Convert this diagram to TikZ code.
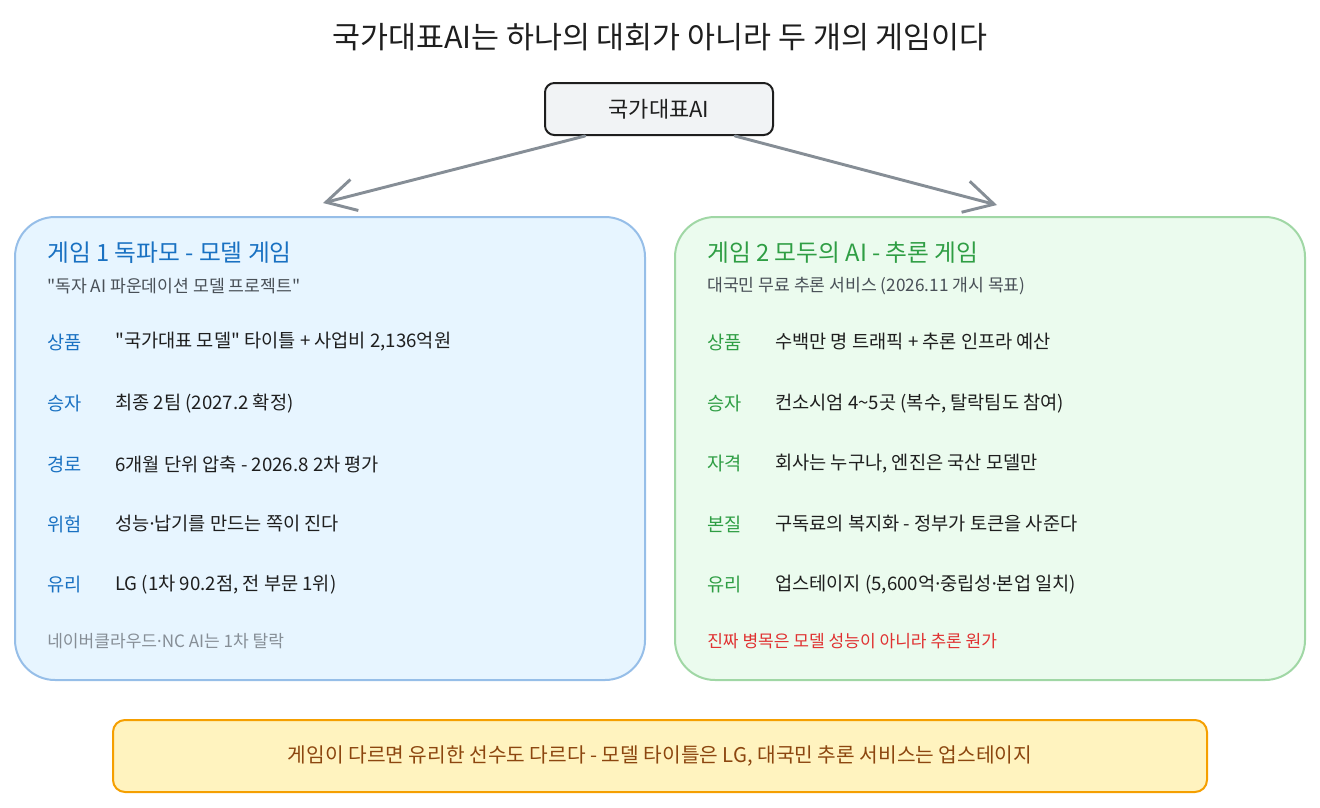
\documentclass[tikz,border=0pt]{standalone}
\usepackage{fontspec}
\setmainfont{Noto Sans CJK KR}
\newfontfamily\latinfont{Noto Sans}
\newcommand\punto{{\latinfont ·}}
\newcommand\comilla{\textquotedbl}
\usepackage{xcolor}
\definecolor{tinta}{RGB}{30,30,30}
\definecolor{grisNodo}{RGB}{241,243,245}
\definecolor{grisFlecha}{RGB}{134,142,150}
\definecolor{grisTexto}{RGB}{73,80,87}
\definecolor{grisNota}{RGB}{134,142,150}
\definecolor{azulBorde}{RGB}{150,190,232}
\definecolor{azulFondo}{RGB}{231,245,255}
\definecolor{azulTexto}{RGB}{25,113,194}
\definecolor{verdeBorde}{RGB}{160,215,165}
\definecolor{verdeFondo}{RGB}{235,251,238}
\definecolor{verdeTexto}{RGB}{47,158,68}
\definecolor{rojoNota}{RGB}{224,49,49}
\definecolor{amarFondo}{RGB}{255,243,191}
\definecolor{amarBorde}{RGB}{245,159,0}
\definecolor{marronTexto}{RGB}{140,70,15}
\usetikzlibrary{arrows.meta, positioning}

\begin{document}
\begin{tikzpicture}[x=0.75pt, y=-0.75pt,
  caja/.style={rectangle, rounded corners=30pt, line width=1.5pt,
               minimum width=472.5pt, minimum height=347.25pt},
  arr/.style={-{Straight Barb[length=22pt, width=24pt, line width=2.2pt]},
              line width=2.2pt, color=grisFlecha, line cap=round},
  tit/.style={anchor=west, inner sep=0pt, font=\fontsize{17.8pt}{20pt}\selectfont},
  sub/.style={anchor=west, inner sep=0pt, color=grisTexto, font=\fontsize{12.9pt}{15pt}\selectfont},
  key/.style={anchor=west, inner sep=0pt, font=\fontsize{14pt}{16pt}\selectfont},
  val/.style={anchor=west, inner sep=0pt, color=tinta, font=\fontsize{14pt}{16pt}\selectfont},
  nota/.style={anchor=west, inner sep=0pt, font=\fontsize{12.8pt}{15pt}\selectfont}
]
  \useasboundingbox (0,0) rectangle (1320,807);

  \node[color=tinta, font=\fontsize{22.8pt}{26pt}\selectfont] (titulo) at (660,37)
    {국가대표AI는 하나의 대회가 아니라 두 개의 게임이다};

  \node[rectangle, rounded corners=7pt, draw=tinta, fill=grisNodo, line width=1.5pt,
        minimum width=171pt, minimum height=39pt, text=tinta,
        font=\fontsize{16.5pt}{19pt}\selectfont] (raiz) at (659,109) {국가대표AI};

  % caja izquierda
  \node[caja, draw=azulBorde, fill=azulFondo] (juego1) at (330,448.5) {};
  \node[tit, color=azulTexto] (j1tit) at (47,253) {게임 1 독파모 - 모델 게임};
  \node[sub] (j1sub) at (47,286) {\comilla 독자 AI 파운데이션 모델 프로젝트\comilla};
  \node[key, color=azulTexto] (j1k1) at (47,342) {상품};
  \node[val] (j1v1) at (115,342) {\comilla 국가대표 모델\comilla{} 타이틀 + 사업비 2,136억원};
  \node[key, color=azulTexto] (j1k2) at (47,404) {승자};
  \node[val] (j1v2) at (115,404) {최종 2팀 (2027.2 확정)};
  \node[key, color=azulTexto] (j1k3) at (47,464) {경로};
  \node[val] (j1v3) at (115,464) {6개월 단위 압축 - 2026.8 2차 평가};
  \node[key, color=azulTexto] (j1k4) at (47,524) {위험};
  \node[val] (j1v4) at (115,524) {성능\punto 납기를 만드는 쪽이 진다};
  \node[key, color=azulTexto] (j1k5) at (47,585) {유리};
  \node[val] (j1v5) at (115,585) {LG (1차 90.2점, 전 부문 1위)};
  \node[nota, color=grisNota] (j1nota) at (47,641) {네이버클라우드\punto NC AI는 1차 탈락};

  % caja derecha
  \node[caja, draw=verdeBorde, fill=verdeFondo] (juego2) at (990,448.5) {};
  \node[tit, color=verdeTexto] (j2tit) at (707,253) {게임 2 모두의 AI - 추론 게임};
  \node[sub] (j2sub) at (707,286) {대국민 무료 추론 서비스 (2026.11 개시 목표)};
  \node[key, color=verdeTexto] (j2k1) at (707,342) {상품};
  \node[val] (j2v1) at (775,342) {수백만 명 트래픽 + 추론 인프라 예산};
  \node[key, color=verdeTexto] (j2k2) at (707,404) {승자};
  \node[val] (j2v2) at (775,404) {컨소시엄 4\textasciitilde5곳 (복수, 탈락팀도 참여)};
  \node[key, color=verdeTexto] (j2k3) at (707,464) {자격};
  \node[val] (j2v3) at (775,464) {회사는 누구나, 엔진은 국산 모델만};
  \node[key, color=verdeTexto] (j2k4) at (707,524) {본질};
  \node[val] (j2v4) at (775,524) {구독료의 복지화 - 정부가 토큰을 사준다};
  \node[key, color=verdeTexto] (j2k5) at (707,585) {유리};
  \node[val] (j2v5) at (775,585) {업스테이지 (5,600억\punto 중립성\punto 본업 일치)};
  \node[nota, color=rojoNota] (j2nota) at (707,641) {진짜 병목은 모델 성능이 아니라 추론 원가};

  % conclusion
  \node[rectangle, rounded corners=9pt, draw=amarBorde, fill=amarFondo, line width=1.5pt,
        minimum width=820.5pt, minimum height=54pt, text=marronTexto,
        font=\fontsize{15.2pt}{18pt}\selectfont] (conclusion) at (660,756)
    {게임이 다르면 유리한 선수도 다르다 - 모델 타이틀은 LG, 대국민 추론 서비스는 업스테이지};

  \coordinate (p1) at (323,203);
  \coordinate (p2) at (997,205);
  \draw[arr] ([xshift=-55.5pt]raiz.south) -- (p1);
  \draw[arr] ([xshift=57pt]raiz.south) -- (p2);
\end{tikzpicture}
\end{document}
